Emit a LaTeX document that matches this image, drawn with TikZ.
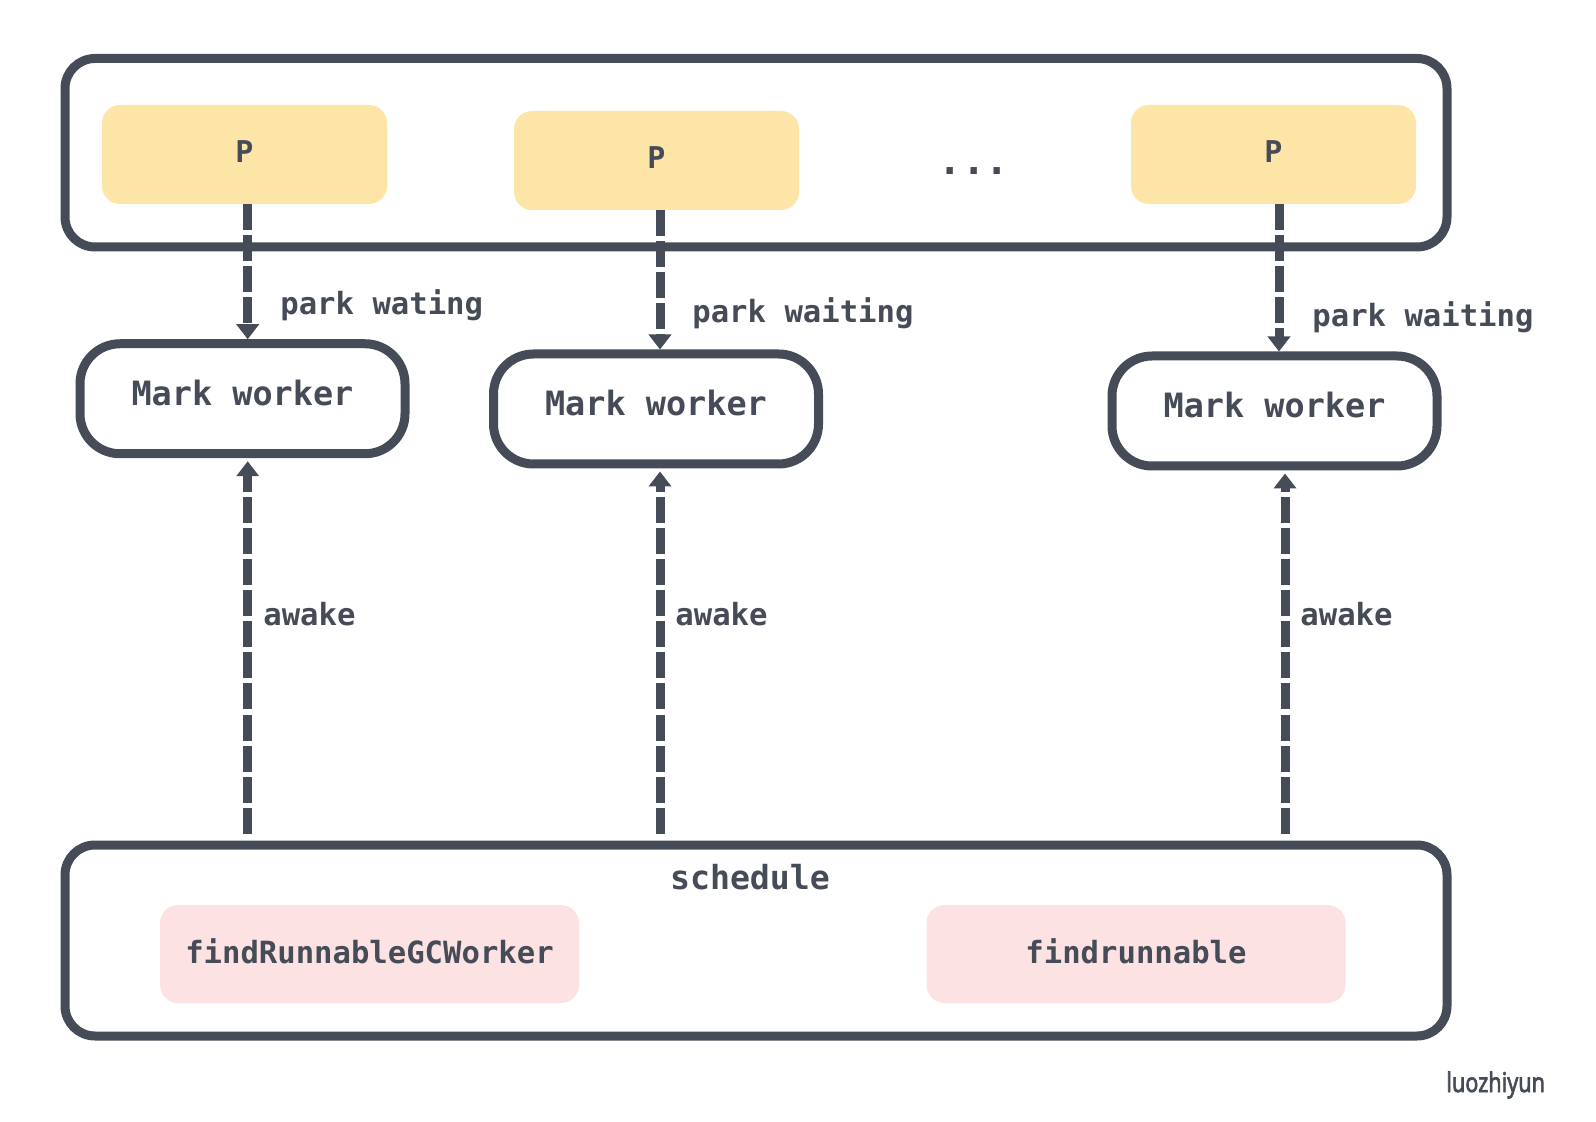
\documentclass[tikz,border=0pt]{standalone}
\usepackage{fontspec}
\setmonofont{DejaVu Sans Mono}
\newfontfamily\wmfont{Noto Sans}[FakeBold=2.5]
\usetikzlibrary{arrows.meta}
\definecolor{ink}{HTML}{464C57}
\definecolor{pyellow}{HTML}{FDE4A7}
\definecolor{ppink}{HTML}{FDE2E3}
\begin{document}
\begin{tikzpicture}[x=0.5pt,y=-0.5pt,
  container/.style={draw=ink, line width=4.5pt, rounded corners=15pt, minimum width=691pt, inner sep=0pt},
  pbox/.style={fill=pyellow, rounded corners=9pt, minimum width=142.5pt, minimum height=49.5pt, inner sep=0pt,
    font=\ttfamily\bfseries\fontsize{15pt}{18pt}\selectfont, text=ink, text depth=3pt},
  mwbox/.style={draw=ink, line width=4.5pt, rounded corners=20pt, minimum width=162.5pt, minimum height=55pt, inner sep=0pt,
    font=\ttfamily\bfseries\fontsize{16.75pt}{20pt}\selectfont, text=ink, text depth=6pt},
  fnbox/.style={fill=ppink, rounded corners=9pt, minimum width=209.5pt, minimum height=49pt, inner sep=0pt,
    font=\ttfamily\bfseries\fontsize{15.3pt}{18pt}\selectfont, text=ink, text depth=3pt},
  lbl/.style={anchor=base west, inner sep=0pt, text=ink, font=\ttfamily\bfseries\fontsize{15.3pt}{18pt}\selectfont},
  flow/.style={draw=ink, line width=4.5pt, dash pattern=on 13pt off 2.5pt, -{Triangle[width=11pt,length=7.5pt]}}
]
\useasboundingbox (0,0) rectangle (1596,1122);
\fill[white] (0,0) rectangle (1596,1122);

% top container with P boxes
\node[container, minimum height=94.25pt] (top) at (756,152.75) {};
\node[pbox] (P1) at (244.5,154.5) {P};
\node[pbox] (P2) at (656.5,160.5) {P};
\node[pbox] (P3) at (1273.5,154.5) {P};
\node[anchor=base, inner sep=0pt, text=ink, font=\ttfamily\bfseries\fontsize{19.4pt}{22pt}\selectfont] (dots) at (974,175) {...};

% mark workers
\node[mwbox] (MW1) at (242.5,398.75) {Mark worker};
\node[mwbox] (MW2) at (656,409) {Mark worker};
\node[mwbox] (MW3) at (1274.5,411) {Mark worker};

% bottom container
\node[container, minimum height=95.5pt] (bot) at (756,940.5) {};
\node[anchor=base, inner sep=0pt, text=ink, font=\ttfamily\bfseries\fontsize{16.6pt}{20pt}\selectfont] (sched) at (750,889) {schedule};
\node[fnbox] (F1) at (369.5,954) {findRunnableGCWorker};
\node[fnbox] (F2) at (1136,954) {findrunnable};

% arrow x positions
\coordinate (a1) at (247.7,0);
\coordinate (a2) at (660,0);
\coordinate (a3) at (1279,0);
\coordinate (u1) at (247.7,0);
\coordinate (u2) at (660,0);
\coordinate (u3) at (1285,0);

% park waiting
\draw[flow] (P1.south -| a1) -- (MW1.north -| a1);
\draw[flow] (P2.south -| a2) -- (MW2.north -| a2);
\draw[flow] (P3.south -| a3) -- (MW3.north -| a3);
\node[lbl] (l1) at (280,315) {park wating};
\node[lbl] (l2) at (692,323) {park waiting};
\node[lbl] (l3) at (1312,327) {park waiting};

% awake
\draw[flow, shorten <=3.5pt, shorten >=1.5pt] (bot.north -| u1) -- (MW1.south -| u1);
\draw[flow, shorten <=3.5pt, shorten >=1.5pt] (bot.north -| u2) -- (MW2.south -| u2);
\draw[flow, shorten <=3.5pt, shorten >=1.5pt] (bot.north -| u3) -- (MW3.south -| u3);
\node[lbl] (w1) at (263,626) {awake};
\node[lbl] (w2) at (675,626) {awake};
\node[lbl] (w3) at (1300,626) {awake};

% watermark
\node[anchor=base west, inner sep=0pt, text=ink, font=\wmfont\fontsize{13.5pt}{15pt}\selectfont] (wm) at (1446,1092) {\scalebox{0.8}[1]{luozhiyun}};
\end{tikzpicture}
\end{document}
